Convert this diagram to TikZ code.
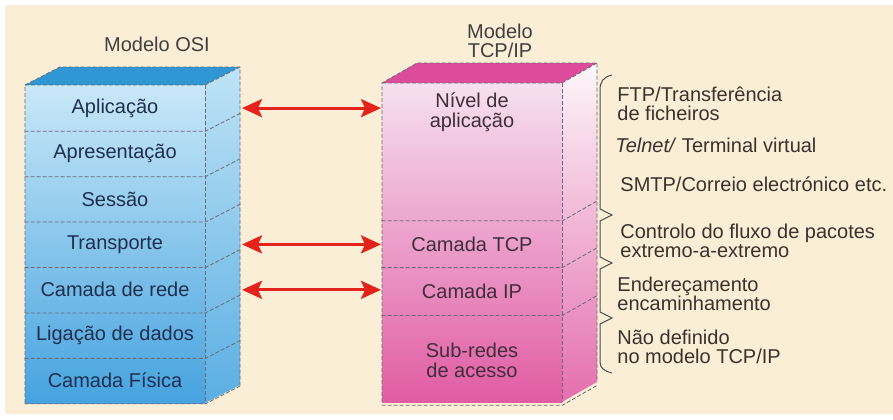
\documentclass[tikz,border=0pt]{standalone}
\usepackage{fontspec}
\setmainfont{Liberation Sans}
\usetikzlibrary{arrows.meta,positioning}

\definecolor{paper}{HTML}{FBEED6}
\definecolor{ositop}{HTML}{2F97D4}
\definecolor{osifrontA}{HTML}{C9E8F8}
\definecolor{osifrontB}{HTML}{46A3DF}
\definecolor{osisideA}{HTML}{BFE3F6}
\definecolor{osisideB}{HTML}{5AAEE3}
\definecolor{tcptop}{HTML}{DD4C9A}
\definecolor{tcpfrontA}{HTML}{F6E0F0}
\definecolor{tcpfrontB}{HTML}{E15CA3}
\definecolor{tcpsideA}{HTML}{FDF7FA}
\definecolor{tcpsideB}{HTML}{E46EAE}
\definecolor{osiink}{HTML}{1E2F4F}
\definecolor{tcpink}{HTML}{3F2E3C}
\definecolor{noteink}{HTML}{3A332C}
\definecolor{arrowred}{HTML}{E4231C}
\definecolor{edgegray}{HTML}{6A6A78}

\tikzset{
  layerbox/.style={minimum width=90pt, inner sep=0pt, anchor=north, align=center,
    font=\fontsize{10}{10}\selectfont},
  osilayer/.style={layerbox, minimum height=22.71pt, text=osiink},
  tcplayer/.style={layerbox, text=tcpink},
  blockedge/.style={edgegray, dash pattern=on 2pt off 1pt, line width=0.4pt},
  link/.style={arrowred, line width=1.6pt, >={Stealth[length=10pt,width=9pt,inset=2pt]}, <->},
  bracket/.style={black!70, line width=0.5pt},
  note/.style={anchor=west, align=left, text=noteink, inner sep=0pt,
    font=\fontsize{10}{9.5}\selectfont},
  heading/.style={align=center, text=black!75, inner sep=0pt,
    font=\fontsize{10}{9.5}\selectfont},
}

\begin{document}
\begin{tikzpicture}[x=0.5pt,y=-0.5pt]
  \useasboundingbox (0,0) rectangle (893,419);
  \fill[white] (0,0) rectangle (893,419);
  \fill[paper] (5,5) rectangle (893,414);

  % titles
  \node[heading] (osiTitle) at (157,44) {Modelo OSI};
  \node[heading] (tcpTitle) at (500,41) {Modelo\\TCP/IP};

  % OSI block
  \fill[ositop] (25,85) -- (60,67) -- (240,67) -- (205,85) -- cycle;
  \shade[top color=osisideA, bottom color=osisideB] (205,85) -- (240,67) -- (240,385) -- (205,403) -- cycle;
  \shade[top color=osifrontA, bottom color=osifrontB] (25,85) rectangle (205,403);
  \draw[blockedge] (25,403) -- (25,85) -- (60,67) -- (240,67) -- (240,385);
  \draw[blockedge] (25,85) -- (205,85) -- (240,67);
  \draw[blockedge] (205,85) -- (205,403);
  \foreach \name/\txt [count=\i from 0] in {osiApp/Aplicação, osiPres/Apresentação,
      osiSess/Sessão, osiTrans/Transporte, osiNet/Camada de rede,
      osiLink/Ligação de dados, osiPhys/Camada Física}
  {
    \node[osilayer] (\name) at (115,{85+45.43*\i}) {\txt};
    \draw[blockedge] (\name.south west) -- (\name.south east) -- ++(35,-18);
  }

  % TCP/IP block
  \fill[tcptop] (382,83) -- (417,63) -- (597,63) -- (562,83) -- cycle;
  \shade[top color=tcpsideA, bottom color=tcpsideB] (562,83) -- (597,63) -- (597,382) -- (562,402) -- cycle;
  \shade[top color=tcpfrontA, bottom color=tcpfrontB] (382,83) rectangle (562,402);
  \draw[blockedge] (382,402) -- (382,83) -- (417,63) -- (597,63) -- (597,382);
  \draw[blockedge] (382,83) -- (562,83) -- (597,63);
  \draw[blockedge] (562,83) -- (562,402);
  \node[tcplayer, minimum height=68.5pt] (tcpApp) at (472,83) {};
  \node[tcplayer, below=4.5pt of tcpApp.north] (tcpAppLbl) {Nível de\\aplicação};
  \node[tcplayer, minimum height=23pt, below=0pt of tcpApp] (tcpTcp) {Camada TCP};
  \node[tcplayer, minimum height=23.5pt, below=0pt of tcpTcp] (tcpIp) {Camada IP};
  \node[tcplayer, minimum height=44.5pt, below=0pt of tcpIp] (tcpSub) {Sub-redes\\de acesso};
  \foreach \name in {tcpApp,tcpTcp,tcpIp,tcpSub}
    \draw[blockedge] (\name.south west) -- (\name.south east) -- ++(35,-20);

  % arrows between matching layers
  \coordinate (osiSide) at (242,0);
  \coordinate (tcpSide) at (381,0);
  \draw[link] (osiSide |- osiApp) -- (tcpSide |- osiApp);
  \draw[link] (osiSide |- osiTrans) -- (tcpSide |- osiTrans);
  \draw[link] (osiSide |- osiNet) -- (tcpSide |- osiNet);

  % brackets and notes
  \draw[bracket] (612,75) .. controls (603,77) and (600,82) .. (600,90) -- (600,209)
    -- (612,215) -- (600,221) -- (600,257) -- (612,263) -- (600,269) -- (600,312)
    -- (612,318) -- (600,324) -- (600,362) .. controls (600,368) and (604,371) .. (612,373);
  \node[note] (ftpTxt) at (617,104) {FTP/Transferência\\de ficheiros};
  \node[note] (telnetTxt) at (615,145) {\textit{Telnet/} Terminal virtual};
  \node[note] (smtpTxt) at (620,184) {SMTP/Correio electrónico etc.};
  \node[note] (tcpTxt) at (620,241) {Controlo do fluxo de pacotes\\extremo-a-extremo};
  \node[note] (ipTxt) at (617,294) {Endereçamento\\encaminhamento};
  \node[note] (subTxt) at (617,347) {Não definido\\no modelo TCP/IP};
\end{tikzpicture}
\end{document}
